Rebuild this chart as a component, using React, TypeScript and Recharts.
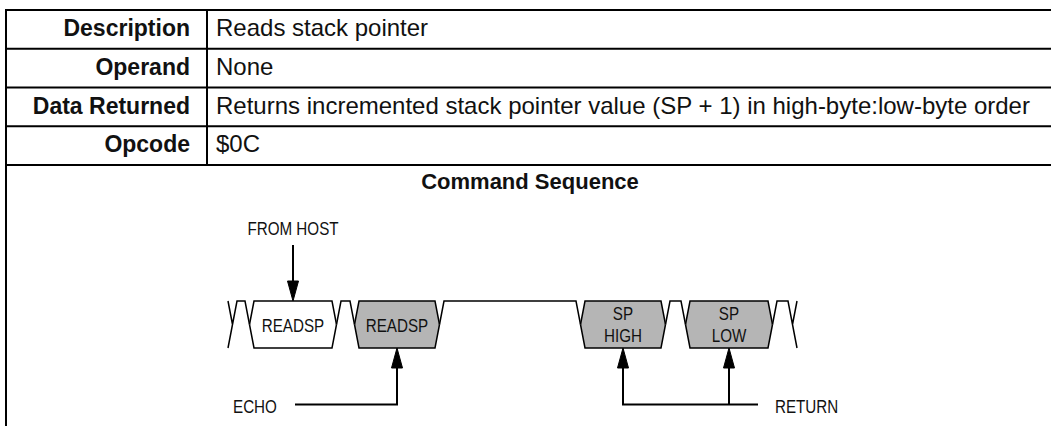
import React from 'react';
import { ComposedChart, XAxis, YAxis, Line, Area, Scatter, ReferenceLine } from 'recharts';

// ---------- data ----------
const ROW_LABELS = ['Description', 'Operand', 'Data Returned', 'Opcode'];
const ROW_VALUES = [
  'Reads stack pointer',
  'None',
  'Returns incremented stack pointer value (SP + 1) in high-byte:low-byte order',
  '$0C',
];
const SECTION_TITLE = 'Command Sequence';

// bus timeline (x along the diagram's time axis)
const CELL_LABELS = [['READSP'], ['READSP'], ['SP', 'HIGH'], ['SP', 'LOW']];
const CELL_START = [245, 350, 576, 681];
const CELL_END = [332, 435, 661, 768];
const CELL_DRIVER = ['host', 'target', 'target', 'target'];
const LEAD_STUB_END = 228;
const TRAIL_STUB_START = 788;

const HOST_LABEL = 'FROM HOST';
const ECHO_LABEL = 'ECHO';
const RETURN_LABEL = 'RETURN';
const HOST_CELLS = [0];
const ECHO_CELLS = [1];
const RETURN_CELLS = [2, 3];

// ---------- layout ----------
const W = 1051;
const H = 426;
const TABLE_LEFT = 6;
const TABLE_TOP = 10;
const ROW_H = 38.75;
const DIVIDER_X = 207;
const LABEL_RIGHT = 190;
const VALUE_LEFT = 216;
const ROW_BASE = 26;
const TITLE_X = 530;
const TITLE_Y = 189;

const BUS_TOP = 301;
const BUS_BOT = 348;
const SL = 9;
const MID = (BUS_TOP + BUS_BOT) / 2;
const HEAD_LEN = 20;
const HEAD_HALF = 5.5;

const HOST_LABEL_Y = 235;
const HOST_LINE_TOP = 245;
const FOOT_Y = 404.5;
const FOOT_TEXT_Y = 413;
const ECHO_TEXT_X = 233;
const ECHO_LINE_X = 295;
const RETURN_LINE_END = 758;
const RETURN_TEXT_X = 775;

const TABLE_FONT = "'Liberation Sans', Arial, Helvetica, sans-serif";
const DIAG_FONT = "'Liberation Sans', Arial, Helvetica, sans-serif";
const DIAG_SIZE = 19;
const DIAG_SQUEEZE = 0.8;
const GRAY = '#b5b5b5';

// ---------- derived ----------
const cellCenter = (i: number) => (CELL_START[i] + SL + CELL_END[i]) / 2;
const BRK = (x: number) => ({ x, y: null as any });

const cellAreas = CELL_START.map((s, i) => [
  { x: s + SL / 2, r: [MID, MID] },
  { x: s + SL, r: [BUS_BOT, BUS_TOP] },
  { x: CELL_END[i], r: [BUS_BOT, BUS_TOP] },
  { x: CELL_END[i] + SL / 2, r: [MID, MID] },
]);

const wave: any[] = [];
wave.push({ x: LEAD_STUB_END, y: BUS_TOP }, { x: LEAD_STUB_END + SL / 2, y: MID }, BRK(LEAD_STUB_END + SL / 2));
wave.push(
  { x: LEAD_STUB_END, y: BUS_BOT },
  { x: LEAD_STUB_END + SL / 2, y: MID },
  { x: LEAD_STUB_END + SL, y: BUS_TOP },
  { x: CELL_START[0], y: BUS_TOP },
  { x: CELL_START[0] + SL / 2, y: MID },
  BRK(CELL_START[0] + SL / 2),
);
for (let i = 0; i < CELL_START.length; i++) {
  const e = CELL_END[i];
  const next = i + 1 < CELL_START.length ? CELL_START[i + 1] : TRAIL_STUB_START;
  wave.push(
    { x: e + SL / 2, y: MID },
    { x: e + SL, y: BUS_TOP },
    { x: next, y: BUS_TOP },
    { x: next + SL / 2, y: MID },
  );
  if (i + 1 === CELL_START.length) {
    wave.push({ x: next + SL, y: BUS_BOT }, BRK(next + SL), { x: next + SL / 2, y: MID }, { x: next + SL, y: BUS_TOP });
  }
  wave.push(BRK(next + SL));
}

const arrows: any[] = [];
HOST_CELLS.forEach((i) => {
  arrows.push({ x: cellCenter(i), y: HOST_LINE_TOP }, { x: cellCenter(i), y: BUS_TOP - HEAD_LEN + 2 }, BRK(cellCenter(i)));
});
ECHO_CELLS.forEach((i) => {
  arrows.push({ x: ECHO_LINE_X, y: FOOT_Y }, { x: cellCenter(i), y: FOOT_Y }, { x: cellCenter(i), y: BUS_BOT + HEAD_LEN - 2 }, BRK(cellCenter(i)));
});
arrows.push(
  { x: cellCenter(RETURN_CELLS[0]), y: BUS_BOT + HEAD_LEN - 2 },
  { x: cellCenter(RETURN_CELLS[0]), y: FOOT_Y },
  { x: RETURN_LINE_END, y: FOOT_Y },
  BRK(RETURN_LINE_END),
);
RETURN_CELLS.slice(1).forEach((i) => {
  arrows.push({ x: cellCenter(i), y: FOOT_Y }, { x: cellCenter(i), y: BUS_BOT + HEAD_LEN - 2 }, BRK(cellCenter(i)));
});

const heads = [
  ...HOST_CELLS.map((i) => ({ x: cellCenter(i), y: BUS_TOP, dir: 1 })),
  ...ECHO_CELLS.map((i) => ({ x: cellCenter(i), y: BUS_BOT, dir: -1 })),
  ...RETURN_CELLS.map((i) => ({ x: cellCenter(i), y: BUS_BOT, dir: -1 })),
];

const labelTexts = ROW_LABELS.map((t, i) => ({ x: LABEL_RIGHT, y: TABLE_TOP + i * ROW_H + ROW_BASE, text: t }));
const valueTexts = ROW_VALUES.map((t, i) => ({ x: VALUE_LEFT, y: TABLE_TOP + i * ROW_H + ROW_BASE, text: t }));
const titleTexts = [{ x: TITLE_X, y: TITLE_Y, text: SECTION_TITLE }];

const cellTexts: any[] = [];
CELL_LABELS.forEach((lines, i) => {
  if (lines.length === 1) cellTexts.push({ x: cellCenter(i), y: MID + 7, text: lines[0] });
  else {
    cellTexts.push({ x: cellCenter(i), y: MID - 4.5, text: lines[0] });
    cellTexts.push({ x: cellCenter(i), y: MID + 17, text: lines[1] });
  }
});
cellTexts.push({ x: cellCenter(HOST_CELLS[0]), y: HOST_LABEL_Y, text: HOST_LABEL });
const footTexts = [
  { x: ECHO_TEXT_X, y: FOOT_TEXT_Y, text: ECHO_LABEL },
  { x: RETURN_TEXT_X, y: FOOT_TEXT_Y, text: RETURN_LABEL },
];

const hLines = [0, 1, 2, 3, 4].map((k) => TABLE_TOP + k * ROW_H);

const textShape = (style: any) => (props: any) => {
  const { cx, cy, payload } = props;
  return (
    <text x={cx} y={cy} {...style}>
      {payload.text}
    </text>
  );
};

const narrowTextShape = (anchor: string) => (props: any) => {
  const { cx, cy, payload } = props;
  return (
    <text
      x={0}
      y={0}
      transform={`translate(${cx},${cy}) scale(${DIAG_SQUEEZE},1)`}
      textAnchor={anchor}
      fontFamily={DIAG_FONT}
      fontSize={DIAG_SIZE}
      fill="#111"
    >
      {payload.text}
    </text>
  );
};

const headShape = (props: any) => {
  const { cx, cy, payload } = props;
  const d = payload.dir;
  const pts = `${cx},${cy} ${cx - HEAD_HALF},${cy - d * HEAD_LEN} ${cx + HEAD_HALF},${cy - d * HEAD_LEN}`;
  return <polygon points={pts} fill="#000" stroke="#000" strokeWidth={1} />;
};

export default function App() {
  return (
    <div style={{ position: 'absolute', left: 0, top: 0, width: W, height: H, background: '#fff' }}>
      <ComposedChart width={W} height={H} margin={{ top: 0, right: 0, bottom: 0, left: 0 }}>
        <XAxis type="number" dataKey="x" domain={[0, W]} hide allowDataOverflow />
        <YAxis type="number" dataKey="y" domain={[0, H]} reversed hide allowDataOverflow />

        {hLines.map((y, k) => (
          <ReferenceLine
            key={'h' + k}
            segment={[{ x: TABLE_LEFT - 1, y }, { x: W, y }]}
            stroke="#000"
            strokeWidth={2}
            ifOverflow="visible"
          />
        ))}
        <ReferenceLine
          segment={[{ x: TABLE_LEFT, y: TABLE_TOP }, { x: TABLE_LEFT, y: H }]}
          stroke="#000"
          strokeWidth={2}
          ifOverflow="visible"
        />
        <ReferenceLine
          segment={[{ x: DIVIDER_X, y: TABLE_TOP }, { x: DIVIDER_X, y: hLines[4] }]}
          stroke="#000"
          strokeWidth={2}
          ifOverflow="visible"
        />

        {cellAreas.map((d, i) => (
          <Area
            key={'c' + i}
            data={d}
            dataKey="r"
            type="linear"
            fill={CELL_DRIVER[i] === 'host' ? '#ffffff' : GRAY}
            fillOpacity={1}
            stroke="#000"
            strokeWidth={1.5}
            isAnimationActive={false}
            dot={false}
            activeDot={false}
          />
        ))}

        <Line
          data={wave}
          dataKey="y"
          type="linear"
          stroke="#000"
          strokeWidth={1.5}
          dot={false}
          activeDot={false}
          connectNulls={false}
          isAnimationActive={false}
        />
        <Line
          data={arrows}
          dataKey="y"
          type="linear"
          stroke="#000"
          strokeWidth={2}
          dot={false}
          activeDot={false}
          connectNulls={false}
          isAnimationActive={false}
        />
        <Scatter data={heads} dataKey="y" shape={headShape} isAnimationActive={false} />

        <Scatter
          data={labelTexts}
          dataKey="y"
          isAnimationActive={false}
          shape={textShape({ textAnchor: 'end', fontFamily: TABLE_FONT, fontWeight: 700, fontSize: 23, fill: '#111' })}
        />
        <Scatter
          data={valueTexts}
          dataKey="y"
          isAnimationActive={false}
          shape={textShape({ textAnchor: 'start', fontFamily: TABLE_FONT, fontSize: 24, fill: '#111' })}
        />
        <Scatter
          data={titleTexts}
          dataKey="y"
          isAnimationActive={false}
          shape={textShape({ textAnchor: 'middle', fontFamily: TABLE_FONT, fontWeight: 700, fontSize: 22, fill: '#111' })}
        />
        <Scatter data={cellTexts} dataKey="y" isAnimationActive={false} shape={narrowTextShape('middle')} />
        <Scatter data={footTexts} dataKey="y" isAnimationActive={false} shape={narrowTextShape('start')} />
      </ComposedChart>
    </div>
  );
}
